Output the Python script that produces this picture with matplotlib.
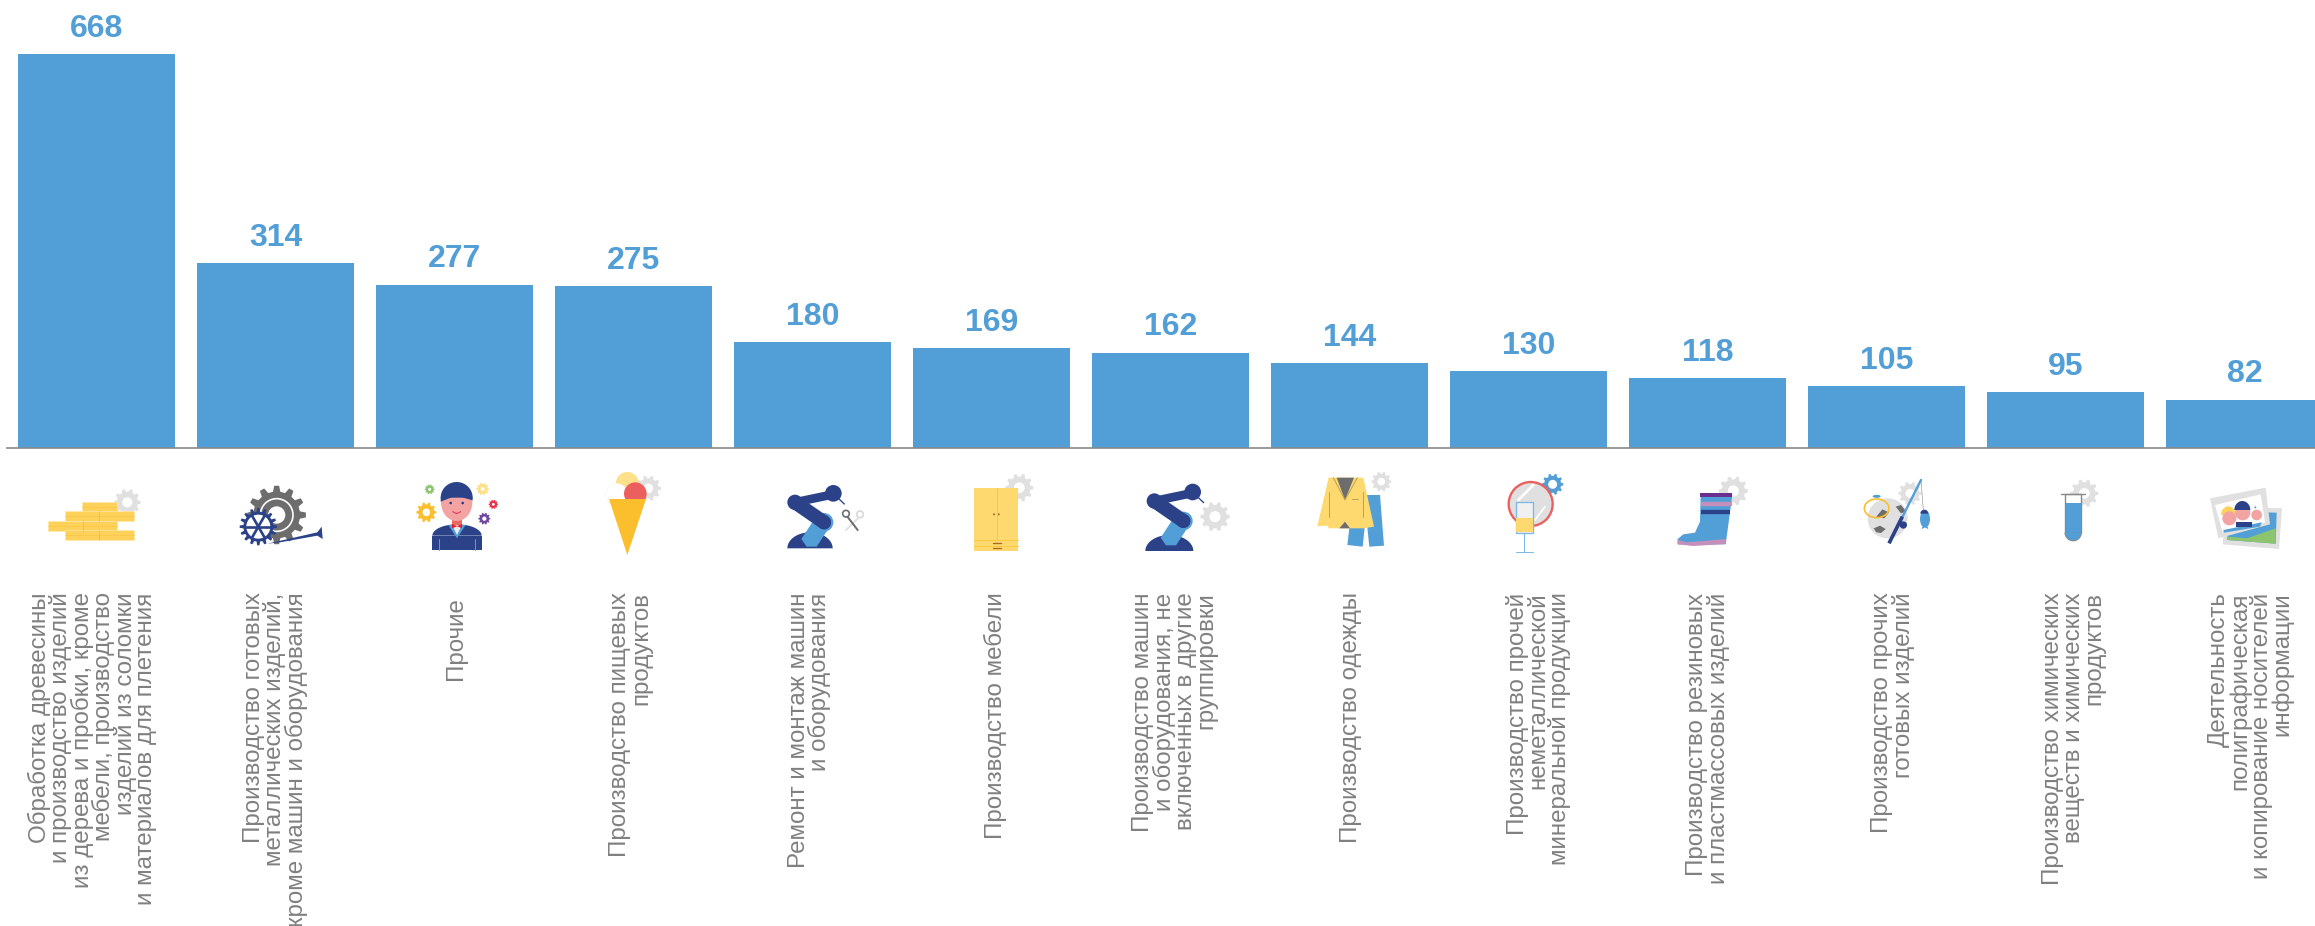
import numpy as np
import matplotlib
matplotlib.use("Agg")
import matplotlib.pyplot as plt
from matplotlib.patches import Polygon, Circle, Ellipse, Rectangle
from matplotlib.lines import Line2D
from matplotlib.transforms import Affine2D, ScaledTranslation

plt.rcParams['font.family'] = ['Liberation Sans', 'DejaVu Sans']

values = [668, 314, 277, 275, 180, 169, 162, 144, 130, 118, 105, 95, 82]
labels = [
    "Обработка древесины\nи производство изделий\nиз дерева и пробки, кроме\nмебели, производство\nизделий из соломки\nи материалов для плетения",
    "Производство готовых\nметаллических изделий,\nкроме машин и оборудования",
    "Прочие ",
    "Производство пищевых\nпродуктов",
    "Ремонт и монтаж машин\nи оборудования",
    "Производство мебели",
    "Производство машин\nи оборудования, не\nвключенных в другие\nгруппировки",
    "Производство одежды",
    "Производство прочей\nнеметаллической\nминеральной продукции",
    "Производство резиновых\nи пластмассовых изделий",
    "Производство прочих\nготовых изделий",
    "Производство химических\nвеществ и химических\nпродуктов",
    "Деятельность\nполиграфическая\nи копирование носителей\nинформации",
]
# small sideways shift of each label, px
label_nudge = [-4, 0, 3, -3, -3, 4, 4, 1, 10, 0, 6, 8, 6]

BLUE = '#529ed6'
NAVY = '#2b4289'
YELLOW = '#fdd96f'
AMBER = '#fbbf2d'
LIGHT = '#e0e0e0'
DARK = '#6d6d6d'
RED = '#ec5f5f'
PINK = '#c48fbb'
SKIN = '#f4a3a3'

W, H = 2315, 926
BASE = 448
fig = plt.figure(figsize=(W / 100, H / 100), dpi=100)

# bars
ax = fig.add_axes([0, (H - BASE) / H, 1, BASE / H])
x = np.arange(len(values))
ax.bar(x, values, width=0.877, color=BLUE)
ax.set_xlim(-0.539, 12.391)
ax.set_ylim(0, 760)
for s in ['top', 'left', 'right']:
    ax.spines[s].set_visible(False)
ax.spines['bottom'].set_color('#898989')
ax.spines['bottom'].set_linewidth(1.2)
ax.spines['bottom'].set_bounds(-0.5, 12.391)
ax.set_yticks([])
ax.set_xticks(x)
ax.set_xticklabels(labels, rotation=90, ha='center', va='top', ma='right',
                   fontsize=17.4, color='#808080', linespacing=0.915)
ax.tick_params(axis='x', length=0, pad=104)
for lbl, dx in zip(ax.get_xticklabels(), label_nudge):
    lbl.set_transform(lbl.get_transform() + ScaledTranslation(dx / 100, 0, fig.dpi_scale_trans))
for i, v in zip(x, values):
    ax.annotate(str(v), (i, v), xytext=(0, 12.5), textcoords='offset points',
                ha='center', va='baseline', fontsize=23, fontweight='bold',
                color=BLUE, annotation_clip=False)

# icons, in px*3 relative to an origin
ov = fig.add_axes([0, 0, 1, 1], facecolor='none')
ov.set_xlim(0, W)
ov.set_ylim(H, 0)
ov.set_autoscale_on(False)
ov.axis('off')


def at(x0, y0):
    return Affine2D().scale(1 / 3).translate(x0, y0) + ov.transData


def poly(t, pts, c, ec='none', lw=0):
    ov.add_patch(Polygon(pts, closed=True, fc=c, ec=ec, lw=lw * 0.24, transform=t))


def circ(t, cx, cy, r, c, ec='none', lw=0):
    ov.add_patch(Circle((cx, cy), r, fc=c, ec=ec, lw=lw * 0.24, transform=t))


def ell(t, cx, cy, w, h, c='none', ec='none', lw=0, angle=0):
    ov.add_patch(Ellipse((cx, cy), w, h, angle=angle, fc=c, ec=ec, lw=lw * 0.24, transform=t))


def rect(t, x0, y0, x1, y1, c, ec='none', lw=0):
    ov.add_patch(Rectangle((x0, y0), x1 - x0, y1 - y0, fc=c, ec=ec, lw=lw * 0.24, transform=t))


def line(t, xs, ys, c, lw=3, cap='round'):
    ov.add_line(Line2D(xs, ys, color=c, lw=lw * 0.24, solid_capstyle=cap, transform=t))


def dome(t, cx, cy, rx, ry, c):
    a = np.linspace(0, np.pi, 40)
    poly(t, np.column_stack([cx + rx * np.cos(a), cy - ry * np.sin(a)]), c)


def gear(t, cx, cy, r, c=LIGHT, hole=0.38, n=10):
    a = []
    rad = []
    step = 2 * np.pi / n
    for k in range(n):
        a += [k * step - step * 0.3, k * step - step * 0.16, k * step + step * 0.16, k * step + step * 0.3]
        rad += [r * 0.8, r, r, r * 0.8]
    a = np.array(a)
    rad = np.array(rad)
    poly(t, np.column_stack([cx + rad * np.cos(a), cy + rad * np.sin(a)]), c)
    if hole:
        circ(t, cx, cy, r * hole, 'white')


def robot(t, dx, dy, base_w, base_y):
    dome(t, 150 + dx, base_y, base_w / 2, 48, NAVY)
    line(t, [105 + dx, 192 + dx], [112 + dy, 172 + dy], NAVY, 42)
    line(t, [105 + dx, 220 + dx], [112 + dy, 88 + dy], NAVY, 26)
    poly(t, [(124 + dx, 222 + dy), (170 + dx, 152 + dy), (214 + dx, 178 + dy), (170 + dx, 245 + dy),
             (140 + dx, 245 + dy)], BLUE)
    circ(t, 192 + dx, 172 + dy, 28, BLUE)
    circ(t, 105 + dx, 112 + dy, 23, NAVY)
    circ(t, 105 + dx, 112 + dy, 14, BLUE)
    circ(t, 192 + dx, 172 + dy, 21, NAVY)
    circ(t, 220 + dx, 85 + dy, 25, NAVY)
    line(t, [235 + dx, 253 + dx], [100 + dy, 117 + dy], NAVY, 4)


# wood planks
t = at(30, 465)
gear(t, 292, 112, 40)
for x0, y0, x1, y1, d in [(157, 110, 262, 140, None), (105, 139, 312, 169, 208),
                          (55, 168, 262, 198, 158), (105, 196, 312, 226, 208)]:
    rect(t, x0, y0, x1, y1, '#fdd15a', ec='#fde9a8', lw=2)
    line(t, [x0, x1], [(y0 + y1) / 2, (y0 + y1) / 2], '#f9c53f', 2)
    if d:
        line(t, [d, d], [y0, y1], '#f3b92e', 2)

# gears and horn
gear(t, 740, 150, 88, DARK, hole=0, n=12)
circ(t, 740, 150, 49, 'none', ec='white', lw=5)
circ(t, 740, 150, 26, 'white')
poly(t, [(712, 236), (862, 202), (875, 185), (878, 222), (862, 212), (750, 232)], NAVY)
gear(t, 685, 185, 56, NAVY, hole=0, n=16)
circ(t, 685, 185, 36, 'white')
for a in np.linspace(0, np.pi, 4)[:-1]:
    line(t, [685 - 38 * np.cos(a), 685 + 38 * np.cos(a)],
         [185 - 38 * np.sin(a), 185 + 38 * np.sin(a)], NAVY, 8)

# man
dome(t, 1281, 212, 74, 34, NAVY)
rect(t, 1207, 212, 1355, 256, NAVY)
poly(t, [(1255, 180), (1307, 180), (1281, 220)], BLUE)
poly(t, [(1266, 180), (1296, 180), (1281, 210)], '#ececec')
rect(t, 1265, 155, 1296, 180, '#ea6a5f')
ell(t, 1280, 112, 94, 112, SKIN)
dome(t, 1280, 98, 48, 47, NAVY)
poly(t, [(1232, 110), (1278, 92), (1328, 106), (1328, 96), (1232, 96)], NAVY)
circ(t, 1262, 114, 4, NAVY)
circ(t, 1298, 114, 4, NAVY)
line(t, [1268, 1280, 1292], [140, 146, 140], '#e8334a', 3)
poly(t, [(1266, 177), (1281, 183), (1296, 177), (1296, 190), (1281, 184), (1266, 190)], '#e0202f')
line(t, [1227, 1227], [222, 256], BLUE, 3)
line(t, [1335, 1335], [222, 256], BLUE, 3)
gear(t, 1189, 142, 30, AMBER)
gear(t, 1199, 73, 15, '#8cc56e', hole=0.3)
gear(t, 1358, 72, 19, '#fde08a', hole=0.3)
gear(t, 1390, 118, 14, '#e8334a', hole=0.3)
gear(t, 1363, 161, 18, '#6f4a9e', hole=0.35)

# ice cream
t = at(550, 465)
gear(t, 295, 70, 38)
circ(t, 232, 55, 34, '#fde08a')
circ(t, 200, 88, 33, 'white', ec='#e8e8e8', lw=1)
circ(t, 256, 86, 34, RED)
poly(t, [(177, 102), (288, 102), (232, 270)], AMBER)

# robot with scissors
t = at(760, 465)
robot(t, 0, 0, 136, 250)
circ(t, 300, 148, 10, 'none', ec='#d8d8d8', lw=5)
line(t, [296, 258], [158, 195], LIGHT, 6)
circ(t, 258, 146, 10, 'none', ec=DARK, lw=5)
line(t, [263, 293], [156, 195], DARK, 6)

# wardrobe
gear(t, 778, 68, 42)
rect(t, 642, 70, 775, 258, YELLOW)
line(t, [710, 710], [70, 225], '#fbc940', 3)
line(t, [642, 775], [225, 225], '#fbc940', 3)
line(t, [642, 775], [242, 242], '#fbc940', 3)
circ(t, 702, 148, 3, '#b5651d')
circ(t, 716, 148, 3, '#b5651d')
line(t, [700, 722], [234, 234], '#b5651d', 4)
line(t, [700, 722], [250, 250], '#b5651d', 4)

# robot with gear
gear(t, 1365, 155, 44)
robot(t, 1078, -4, 144, 258)

# jacket and trousers
t = at(1300, 465)
gear(t, 244, 50, 30)
poly(t, [(198, 90), (240, 90), (252, 242), (208, 245), (198, 150), (188, 245), (142, 240), (155, 130)], BLUE)
poly(t, [(86, 38), (190, 38), (222, 185), (190, 190), (87, 190), (82, 182), (52, 183)], YELLOW)
poly(t, [(110, 38), (162, 38), (135, 105)], DARK)
poly(t, [(118, 190), (135, 170), (150, 190)], DARK)
line(t, [100, 135, 172], [38, 105, 38], '#b8a25c', 3)
line(t, [86, 86], [80, 155], '#b8a25c', 3)
line(t, [188, 188], [80, 155], '#b8a25c', 3)
line(t, [156, 174], [102, 102], '#b8a25c', 3)

# mirror and glass
gear(t, 758, 58, 32, BLUE, hole=0.42)
circ(t, 692, 117, 66, LIGHT, ec=RED, lw=7)
line(t, [655, 700], [105, 60], 'white', 8)
line(t, [705, 735], [165, 125], 'white', 5)
rect(t, 647, 110, 700, 203, '#f0f0f0', ec='#7fb8e5', lw=4)
rect(t, 649, 158, 698, 201, YELLOW)
line(t, [672, 672], [205, 260], '#7fb8e5', 3)
line(t, [647, 698], [260, 260], '#7fb8e5', 3)

# boot
gear(t, 1300, 78, 44)
poly(t, [(1202, 90), (1297, 90), (1277, 238), (1133, 238), (1133, 222), (1150, 208),
         (1185, 203), (1200, 170)], BLUE)
line(t, [1199, 1297], [91, 91], '#6a2f91', 12, 'butt')
line(t, [1202, 1295], [118, 118], PINK, 13, 'butt')
line(t, [1203, 1290], [141, 141], NAVY, 13, 'butt')
poly(t, [(1133, 224), (1160, 232), (1277, 222), (1277, 237), (1180, 243), (1133, 238)], PINK)

# ball and fishing rod
t = at(1795, 465)
gear(t, 345, 85, 35)
circ(t, 278, 160, 60, LIGHT)
poly(t, [(244, 155), (262, 133), (282, 142), (268, 160)], DARK)
poly(t, [(236, 190), (255, 182), (272, 192), (258, 204), (244, 202)], DARK)
poly(t, [(302, 125), (318, 120), (334, 140), (318, 145)], DARK)
ell(t, 245, 130, 74, 56, ec=AMBER, lw=5)
ell(t, 245, 94, 24, 9, c=BLUE)
line(t, [378, 385], [45, 135], '#9a9a9a', 2)
line(t, [378, 320], [45, 160], BLUE, 7)
line(t, [322, 282], [155, 235], NAVY, 11, 'butt')
circ(t, 325, 180, 11, NAVY)
ell(t, 390, 162, 30, 52, c=BLUE)
poly(t, [(382, 185), (398, 185), (400, 193), (390, 186), (380, 193)], BLUE)
dome(t, 388, 146, 12, 12, NAVY)

# test tube
gear(t, 868, 85, 42)
rect(t, 810, 88, 859, 203, 'white', ec='#888888', lw=4)
rect(t, 812, 115, 857, 203, BLUE)
dome(t, 834.5, 203, 26, -26, '#888888')
dome(t, 834.5, 203, 23, -23, BLUE)
line(t, [799, 869], [88, 88], '#888888', 4)

# photos
poly(t, [(1292, 125), (1461, 130), (1452, 252), (1283, 238)], LIGHT)
poly(t, [(1300, 140), (1445, 143), (1442, 236), (1297, 225)], BLUE)
poly(t, [(1297, 225), (1300, 215), (1355, 220), (1442, 190), (1442, 236)], '#8cc56e')
poly(t, [(1245, 100), (1412, 68), (1425, 178), (1270, 220)], LIGHT)
poly(t, [(1260, 120), (1397, 88), (1410, 172), (1282, 200)], 'white')
poly(t, [(1285, 195), (1400, 172), (1395, 185), (1287, 203)], BLUE)
dome(t, 1300, 150, 22, 26, '#fdd15a')
circ(t, 1303, 160, 21, SKIN)
rect(t, 1322, 172, 1372, 186, NAVY)
circ(t, 1343, 143, 23, SKIN)
dome(t, 1342, 135, 24, 27, NAVY)
circ(t, 1385, 150, 16, SKIN)
circ(t, 1381, 127, 3, BLUE)

fig.savefig('out.png', dpi=100)
